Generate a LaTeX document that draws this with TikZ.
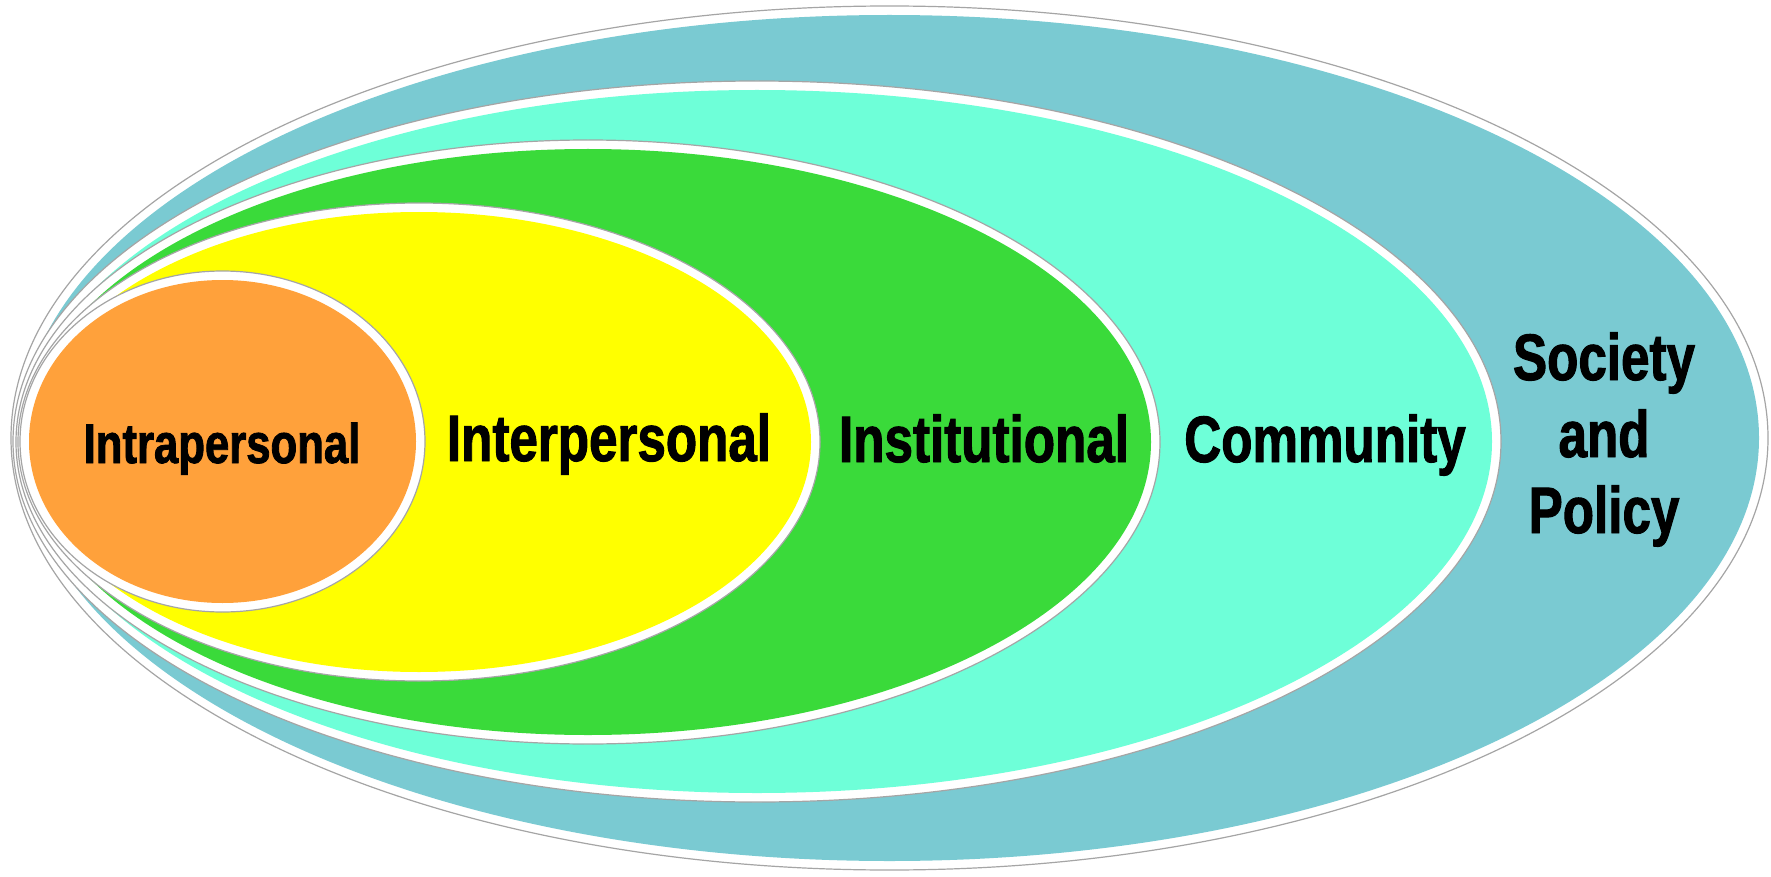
\documentclass[tikz,border=0pt]{standalone}
\usepackage{fontspec}
\newfontfamily\lblfont{Liberation Sans}[FakeStretch=0.78, FakeBold=1.5]
\definecolor{societyc}{RGB}{122,202,210}
\definecolor{communityc}{RGB}{110,255,216}
\definecolor{institc}{RGB}{58,218,58}
\definecolor{interc}{RGB}{255,255,0}
\definecolor{intrac}{RGB}{255,161,59}
\definecolor{rimc}{RGB}{165,165,165}
\begin{document}
\begin{tikzpicture}[x=1pt,y=-1pt,
  ring/.style={fill=white, draw=rimc, line width=1.2pt},
  lbl/.style={anchor=base, inner sep=0pt, font=\lblfont\bfseries\fontsize{65.6}{77}\selectfont},
  smalllbl/.style={anchor=base, inner sep=0pt, font=\lblfont\bfseries\fontsize{56}{66}\selectfont}]
\useasboundingbox (0,0) rectangle (1771,877);
% Society and Policy
\path[ring] (889.5,438) ellipse [x radius=878.5, y radius=432];
\fill[societyc] (889.5,438) ellipse [x radius=869.5, y radius=423];
% Community
\path[ring] (757,441.5) ellipse [x radius=744, y radius=360.5];
\fill[communityc] (757,441.5) ellipse [x radius=735, y radius=351.5];
% Institutional
\path[ring] (588,442) ellipse [x radius=572, y radius=302];
\fill[institc] (588,442) ellipse [x radius=563, y radius=293];
% Interpersonal
\path[ring] (419,442) ellipse [x radius=401, y radius=239];
\fill[interc] (419,442) ellipse [x radius=392, y radius=230];
% Intrapersonal
\path[ring] (222.5,441.5) ellipse [x radius=202.5, y radius=170.5];
\fill[intrac] (222.5,441.5) ellipse [x radius=193.5, y radius=161.5];
% labels
\node[smalllbl] (intra) at (222,463) {Intrapersonal};
\node[lbl] (inter) at (609,461) {Interpersonal};
\node[lbl] (instit) at (984,462) {Institutional};
\node[lbl] (comm) at (1325,462) {Community};
\node[lbl] (soc1) at (1604,380) {Society};
\node[lbl] (soc2) at (1604,457) {and};
\node[lbl] (soc3) at (1604,533) {Policy};
\end{tikzpicture}
\end{document}
